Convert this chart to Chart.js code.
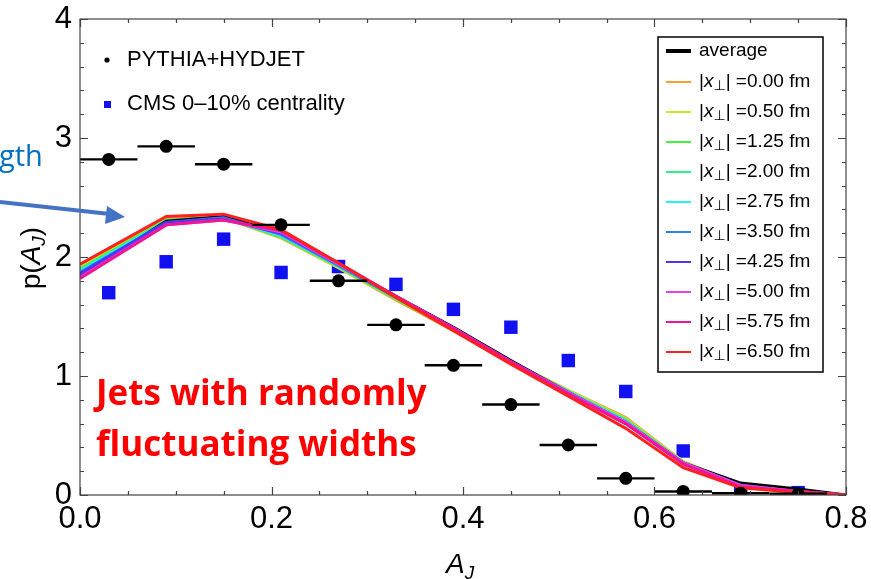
<!DOCTYPE html>
<html>
<head>
<meta charset="utf-8">
<script src="https://cdn.jsdelivr.net/npm/chart.js@4.4.1/dist/chart.umd.min.js"></script>
<style>
  html, body { margin: 0; padding: 0; background: #fff; }
  canvas { display: block; }
</style>
</head>
<body>
<canvas id="ajChart" width="871" height="579"></canvas>
<script>
const ctx = document.getElementById('ajChart').getContext('2d');

// A_J bins (0.06 wide), bin centres
const binCenters = [0.03, 0.09, 0.15, 0.21, 0.27, 0.33, 0.39, 0.45, 0.51, 0.57, 0.63, 0.69, 0.75];
const binHalfWidth = 0.03;
const pythiaValues = [2.82, 2.93, 2.78, 2.27, 1.80, 1.43, 1.09, 0.76, 0.42, 0.14, 0.03, 0.015, 0.01];
const cmsValues = [1.70, 1.96, 2.15, 1.87, 1.92, 1.77, 1.56, 1.41, 1.13, 0.87, 0.37, 0.04, 0.02];

// model curves
const curveX = [0, 0.09, 0.15, 0.21, 0.27, 0.33, 0.39, 0.45, 0.51, 0.57, 0.63, 0.69, 0.75, 0.8];
const averageCurve = [1.84, 2.30, 2.34, 2.20, 1.94, 1.67, 1.41, 1.13, 0.86, 0.60, 0.27, 0.10, 0.05, 0];
const curve000 = [1.92, 2.32, 2.33, 2.16, 1.91, 1.64, 1.38, 1.12, 0.88, 0.65, 0.28, 0.08, 0.03, 0];
const curve050 = [1.91, 2.31, 2.33, 2.17, 1.91, 1.65, 1.39, 1.12, 0.88, 0.64, 0.28, 0.08, 0.03, 0];
const curve125 = [1.90, 2.31, 2.33, 2.17, 1.92, 1.65, 1.39, 1.12, 0.87, 0.63, 0.27, 0.08, 0.03, 0];
const curve200 = [1.89, 2.30, 2.33, 2.18, 1.92, 1.66, 1.40, 1.12, 0.87, 0.63, 0.27, 0.08, 0.03, 0];
const curve275 = [1.88, 2.30, 2.33, 2.18, 1.93, 1.66, 1.40, 1.12, 0.87, 0.62, 0.27, 0.08, 0.03, 0];
const curve350 = [1.87, 2.29, 2.33, 2.19, 1.93, 1.66, 1.40, 1.12, 0.86, 0.61, 0.27, 0.08, 0.03, 0];
const curve425 = [1.86, 2.29, 2.32, 2.20, 1.94, 1.67, 1.40, 1.12, 0.86, 0.61, 0.27, 0.08, 0.03, 0];
const curve500 = [1.83, 2.27, 2.31, 2.21, 1.94, 1.67, 1.40, 1.12, 0.86, 0.61, 0.27, 0.08, 0.03, 0];
const curve575 = [1.82, 2.27, 2.31, 2.22, 1.95, 1.67, 1.40, 1.12, 0.85, 0.60, 0.26, 0.07, 0.03, 0];
const curve650 = [1.94, 2.34, 2.36, 2.23, 1.95, 1.66, 1.38, 1.10, 0.83, 0.56, 0.23, 0.06, 0.02, 0];

const perpLabels = ['0.00', '0.50', '1.25', '2.00', '2.75', '3.50', '4.25', '5.00', '5.75', '6.50'];
const perpCurves = [curve000, curve050, curve125, curve200, curve275, curve350, curve425, curve500, curve575, curve650];
const perpColors = ['#f5a030', '#cce628', '#44f23a', '#30f08c', '#22f2f2', '#2a80ff', '#5533ee', '#e046f0', '#f01496', '#ff2020'];

const toPoints = (xs, ys) => xs.map((x, i) => ({ x: x, y: ys[i] }));

const curveSets = perpCurves.map((vals, i) => ({
    type: 'scatter',
    label: '|x⊥| =' + perpLabels[i] + ' fm',
    perp: perpLabels[i],
    data: toPoints(curveX, vals),
    showLine: true,
    borderColor: perpColors[i],
    borderWidth: 3,
    pointRadius: 0,
    order: perpLabels.length - i
}));

const SANS = '"Liberation Sans", Arial, sans-serif';

// error bars, frame, inward ticks, legends and text
const decor = {
    id: 'decor',
    beforeDatasetDraw(chart, args) {
        if (args.index !== 0) return;
        const c = chart.ctx, xs = chart.scales.x, ys = chart.scales.y;
        c.save();
        c.strokeStyle = '#000';
        c.lineWidth = 2.4;
        binCenters.forEach((b, i) => {
            const y = ys.getPixelForValue(pythiaValues[i]);
            c.beginPath();
            c.moveTo(xs.getPixelForValue(b - binHalfWidth), y);
            c.lineTo(xs.getPixelForValue(b + binHalfWidth), y);
            c.stroke();
        });
        c.restore();
    },
    afterDraw(chart) {
        const c = chart.ctx, xs = chart.scales.x, ys = chart.scales.y;
        const a = chart.chartArea;
        c.save();

        // frame + ticks
        c.strokeStyle = '#444';
        c.lineWidth = 1.2;
        c.strokeRect(a.left, a.top, a.right - a.left, a.bottom - a.top);
        c.beginPath();
        for (let v = 0; v <= 0.8001; v += 0.05) {
            const px = Math.round(xs.getPixelForValue(v)) + 0.5;
            const len = Math.abs(v / 0.2 - Math.round(v / 0.2)) < 1e-6 ? 8 : 4;
            c.moveTo(px, a.bottom); c.lineTo(px, a.bottom - len);
            c.moveTo(px, a.top); c.lineTo(px, a.top + len);
        }
        for (let v = 0; v <= 4.001; v += 0.2) {
            const py = Math.round(ys.getPixelForValue(v)) + 0.5;
            const len = Math.abs(v - Math.round(v)) < 1e-6 ? 8 : 4;
            c.moveTo(a.left, py); c.lineTo(a.left + len, py);
            c.moveTo(a.right, py); c.lineTo(a.right - len, py);
        }
        c.stroke();

        // axis titles
        c.fillStyle = '#000';
        c.textBaseline = 'alphabetic';
        c.save();
        c.translate(40, 258);
        c.rotate(-Math.PI / 2);
        const parts = [
            ['p(', 'normal 28px ' + SANS, 0],
            ['A', 'italic 28px ' + SANS, 0],
            ['J', 'italic 19px ' + SANS, 5],
            [')', 'normal 28px ' + SANS, 0]
        ];
        let tw = 0;
        parts.forEach(p => { c.font = p[1]; tw += c.measureText(p[0]).width; });
        let tx = -tw / 2;
        parts.forEach(p => { c.font = p[1]; c.fillText(p[0], tx, p[2]); tx += c.measureText(p[0]).width; });
        c.restore();

        c.font = 'italic 28px ' + SANS;
        c.fillText('A', 446, 573);
        const aw = c.measureText('A').width;
        c.font = 'italic 19px ' + SANS;
        c.fillText('J', 446 + aw, 579);

        // top-left legend
        c.font = '22px ' + SANS;
        c.textBaseline = 'middle';
        c.beginPath();
        c.arc(107, 60, 2.6, 0, Math.PI * 2);
        c.fill();
        c.fillText(chart.data.datasets[0].label, 127, 60);
        c.fillStyle = chart.data.datasets[1].backgroundColor;
        c.fillRect(104, 101, 7, 7);
        c.fillStyle = '#000';
        c.fillText(chart.data.datasets[1].label, 127, 104);

        // right legend box
        c.fillStyle = '#fff';
        c.fillRect(658, 37, 165, 335);
        c.strokeStyle = '#111';
        c.lineWidth = 1.6;
        c.strokeRect(658, 37, 165, 335);
        const legendSets = [chart.data.datasets[2]].concat(curveSets);
        legendSets.forEach((ds, i) => {
            const y = i === 0 ? 51 : 82 + (i - 1) * 30;
            c.strokeStyle = ds.borderColor;
            c.lineWidth = i === 0 ? 4 : 2;
            c.beginPath();
            c.moveTo(666, y); c.lineTo(691, y);
            c.stroke();
            c.fillStyle = '#000';
            let x = 699;
            const seg = (t, f, dy) => { c.font = f; c.fillText(t, x, y + dy); x += c.measureText(t).width; };
            if (i === 0) {
                seg(ds.label, '19px ' + SANS, 0);
            } else {
                seg('|', '19px ' + SANS, 0);
                seg('x', 'italic 19px ' + SANS, 0);
                seg('⊥', '14px "DejaVu Sans", ' + SANS, 4);
                seg('| =' + ds.perp + ' fm', '19px ' + SANS, 0);
            }
        });

        // slide annotations
        c.textBaseline = 'alphabetic';
        c.fillStyle = '#ff0000';
        c.font = 'bold 35px "Open Sans", sans-serif';
        c.fillText('Jets with randomly', 96, 405);
        c.fillText('fluctuating widths', 96, 456);

        c.fillStyle = '#0070c0';
        c.font = '29px "Open Sans", sans-serif';
        c.fillText('gth', -1, 166);

        c.strokeStyle = '#4472c4';
        c.fillStyle = '#4472c4';
        c.lineWidth = 4;
        c.beginPath();
        c.moveTo(0, 202); c.lineTo(110, 214);
        c.stroke();
        c.beginPath();
        c.moveTo(125, 217); c.lineTo(107, 206); c.lineTo(105, 224);
        c.closePath();
        c.fill();

        c.restore();
    }
};

const averageSet = {
    type: 'scatter',
    label: 'average',
    data: toPoints(curveX, averageCurve),
    showLine: true,
    borderColor: '#000',
    borderWidth: 3,
    pointRadius: 0,
    order: 6
};

const ajChart = new Chart(ctx, {
    type: 'scatter',
    data: {
        datasets: [
            {
                label: 'PYTHIA+HYDJET',
                data: toPoints(binCenters, pythiaValues),
                pointStyle: 'circle',
                pointRadius: 6.5,
                backgroundColor: '#000',
                borderWidth: 0,
                order: 0
            },
            {
                label: 'CMS 0\u201310% centrality',
                data: toPoints(binCenters, cmsValues),
                pointStyle: 'rect',
                pointRadius: 9.5,
                backgroundColor: '#1010f0',
                borderWidth: 0,
                order: 30
            },
            averageSet
        ].concat(curveSets)
    },
    options: {
        responsive: false,
        animation: false,
        events: [],
        layout: { padding: { top: 19, right: 25, left: 0, bottom: 0 } },
        plugins: {
            legend: { display: false },
            tooltip: { enabled: false }
        },
        scales: {
            x: {
                type: 'linear',
                min: 0,
                max: 0.8,
                grid: { display: false },
                border: { display: false },
                ticks: {
                    stepSize: 0.2,
                    padding: -2,
                    color: '#000',
                    font: { family: SANS, size: 31 },
                    callback: v => v.toFixed(1)
                },
                afterFit: s => { s.height = 84; }
            },
            y: {
                min: 0,
                max: 4,
                grid: { display: false },
                border: { display: false },
                ticks: {
                    stepSize: 1,
                    padding: 0,
                    color: '#000',
                    font: { family: SANS, size: 31 },
                    callback: v => v
                },
                afterFit: s => { s.width = 80; }
            }
        }
    },
    plugins: [decor]
});
</script>
</body>
</html>
